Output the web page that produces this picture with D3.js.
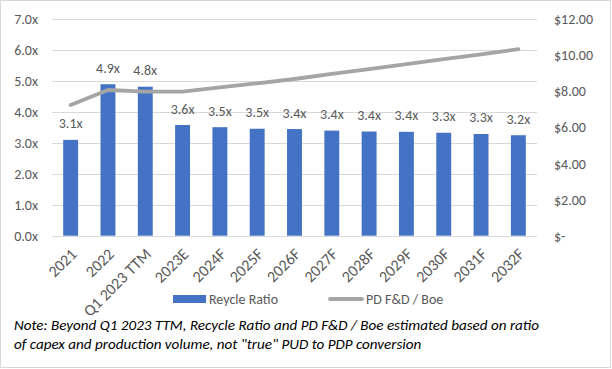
<!DOCTYPE html>
<html><head><meta charset="utf-8">
<script src="https://cdn.jsdelivr.net/npm/d3@7"></script>
<style>
html,body{margin:0;padding:0;background:#fff;}
svg{display:block;font-family:Calibri,Carlito,Lato,"Open Sans",sans-serif;}
</style></head>
<body>
<svg id="chart" width="612" height="369"></svg>
<script>
const categories = ["2021","2022","Q1 2023 TTM","2023E","2024F","2025F","2026F","2027F","2028F","2029F","2030F","2031F","2032F"];
const recycleRatio = [3.10,4.90,4.82,3.58,3.51,3.46,3.45,3.40,3.37,3.36,3.33,3.29,3.25];
const recycleLabels = ["3.1x","4.9x","4.8x","3.6x","3.5x","3.5x","3.4x","3.4x","3.4x","3.4x","3.3x","3.3x","3.2x"];
const pdFdBoe = [7.25,8.08,7.99,7.99,8.22,8.45,8.69,8.97,9.24,9.52,9.79,10.06,10.34];
const leftTicks = [0,1,2,3,4,5,6,7];
const rightTicks = [0,2,4,6,8,10,12];
const seriesNames = ["Reycle Ratio","PD F&D / Boe"];
const noteLines = ["Note: Beyond Q1 2023 TTM, Recycle Ratio and PD F&D / Boe estimated based on ratio",
                   "of capex and production volume, not \"true\" PUD to PDP conversion"];

const svg = d3.select("#chart");
const W = 612, H = 369;
const plot = {left: 52, right: 537, top: 19.3, bottom: 235.7};
const textColor = "#595959";

svg.append("rect").attr("x",0.5).attr("y",0.5).attr("width",W-2).attr("height",H-2)
  .attr("fill","#fff").attr("stroke","#D9D9D9").attr("stroke-width",1);

const x = d3.scaleBand().domain(categories).range([plot.left, plot.right]).paddingInner(0.6).paddingOuter(0.3);
const yL = d3.scaleLinear().domain([0,7]).range([plot.bottom, plot.top]);
const yR = d3.scaleLinear().domain([0,12]).range([plot.bottom, plot.top]);

// gridlines
svg.append("g").selectAll("line").data(leftTicks).join("line")
  .attr("x1",plot.left).attr("x2",plot.right)
  .attr("y1",d=>Math.round(yL(d))+0.5).attr("y2",d=>Math.round(yL(d))+0.5)
  .attr("stroke","#D9D9D9").attr("stroke-width",1);

// left axis
const axL = d3.axisLeft(yL).tickValues(leftTicks).tickFormat(d=>d3.format(".1f")(d)+"x").tickSize(0).tickPadding(14);
const gL = svg.append("g").attr("transform",`translate(${plot.left},0)`).call(axL);
gL.select(".domain").remove();
gL.selectAll("text").attr("fill",textColor).attr("font-size",14).attr("font-family","Calibri,Carlito,Lato,sans-serif");

// right axis
const axR = d3.axisRight(yR).tickValues(rightTicks).tickFormat(d=> d===0 ? "$-" : "$"+d3.format(".2f")(d)).tickSize(0).tickPadding(17);
const gR = svg.append("g").attr("transform",`translate(${plot.right},0)`).call(axR);
gR.select(".domain").remove();
gR.selectAll("text").attr("fill",textColor).attr("font-size",14).attr("font-family","Calibri,Carlito,Lato,sans-serif");

// bars
svg.append("g").selectAll("rect").data(categories).join("rect")
  .attr("x",d=>x(d)).attr("width",x.bandwidth())
  .attr("y",(d,i)=>yL(recycleRatio[i])).attr("height",(d,i)=>yL(0)-yL(recycleRatio[i]))
  .attr("fill","#4472C4");

// bar labels
svg.append("g").selectAll("text").data(categories).join("text")
  .attr("x",d=>x(d)+x.bandwidth()/2).attr("y",(d,i)=>yL(recycleRatio[i])-11.5)
  .attr("text-anchor","middle").attr("fill",textColor).attr("font-size",14)
  .text((d,i)=>recycleLabels[i]);

// line
const line = d3.line().x((d,i)=>x(categories[i])+x.bandwidth()/2).y(d=>yR(d));
svg.append("path").datum(pdFdBoe).attr("d",line).attr("fill","none")
  .attr("stroke","#A5A5A5").attr("stroke-width",3.8).attr("stroke-linecap","round").attr("stroke-linejoin","round");

// x axis labels
const gX = svg.append("g");
gX.selectAll("text").data(categories).join("text")
  .attr("transform",d=>`translate(${x(d)+x.bandwidth()/2+3},${plot.bottom+15.5}) rotate(-45)`)
  .attr("text-anchor","end").attr("dy","0.35em").attr("fill",textColor).attr("font-size",16)
  .text(d=>d);

// legend
const leg = svg.append("g");
leg.append("rect").attr("x",173).attr("y",295).attr("width",33).attr("height",8).attr("fill","#4472C4");
leg.append("text").attr("x",209).attr("y",304).attr("fill",textColor).attr("font-size",14).text(seriesNames[0]);
leg.append("line").attr("x1",330).attr("x2",362).attr("y1",299).attr("y2",299)
  .attr("stroke","#A5A5A5").attr("stroke-width",3.8).attr("stroke-linecap","round");
leg.append("text").attr("x",366).attr("y",304).attr("fill",textColor).attr("font-size",14).text(seriesNames[1]);

// note
svg.append("g").selectAll("text").data(noteLines).join("text")
  .attr("x",14).attr("y",(d,i)=>330+i*18.5).attr("font-style","italic").attr("fill","#000")
  .attr("font-size",15.1).text(d=>d);
</script>
</body></html>
